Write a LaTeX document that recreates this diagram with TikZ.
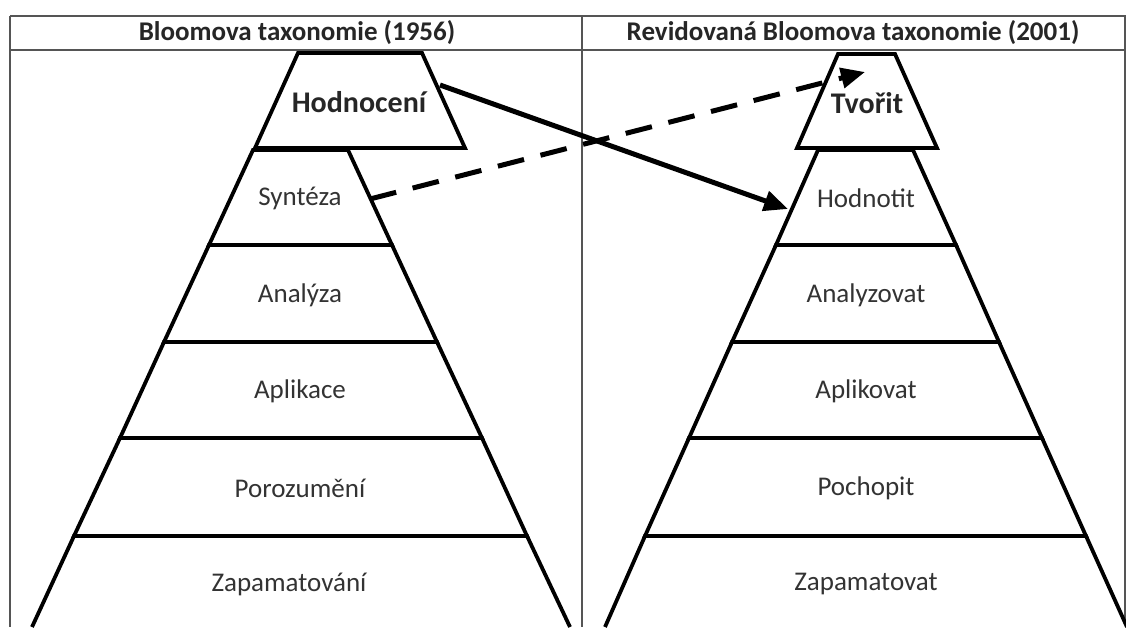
\documentclass[tikz,border=0pt]{standalone}
\usepackage{fontspec}
\setmainfont{Carlito}
\usetikzlibrary{arrows.meta}
\definecolor{txt}{HTML}{333333}
\definecolor{rule}{HTML}{555555}
\begin{document}
\begin{tikzpicture}[x=1pt,y=-1pt,
  frame/.style={draw=rule,line width=1.4pt},
  level/.style={draw=black,fill=white,line width=3.8pt,line join=miter},
  lbl/.style={text=txt,font=\fontsize{27}{31}\selectfont,inner sep=0pt},
  toplbl/.style={text=black!85,font=\bfseries\fontsize{30}{34}\selectfont,inner sep=0pt},
  head/.style={text=black!85,font=\bfseries\fontsize{27}{31}\selectfont,inner sep=0pt},
  conn/.style={draw=black,line width=5pt,-{Triangle[length=24pt,width=20pt]}},
  dashconn/.style={conn,dash pattern=on 27pt off 17pt}]
\useasboundingbox (0,0) rectangle (1126,627);
\fill[white] (0,0) rectangle (1126,627);
\begin{scope}
\clip (0,0) rectangle (1126,627);
% frame
\draw[frame] (10,16) -- (1126,16);
\draw[frame] (10,50) -- (1126,50);
\draw[frame] (10,16) -- (10,627);
\draw[frame] (582,16) -- (582,627);
\draw[frame] (1125,16) -- (1125,627);
\node[head] (h1) at (297,33) {Bloomova taxonomie (1956)};
\node[head] (h2) at (853,33) {Revidovaná Bloomova taxonomie (2001)};
% left pyramid
\draw[level] (32,627) -- (74,536) -- (527,536) -- (570,627);
\draw[level] (74,536) -- (120,438) -- (482,438) -- (527,536) -- cycle;
\draw[level] (120,438) -- (164,342) -- (437,342) -- (482,438) -- cycle;
\draw[level] (164,342) -- (209,245) -- (392,245) -- (437,342) -- cycle;
\draw[level] (209,245) -- (253,150) -- (348,150) -- (392,245) -- cycle;
\draw[level] (255,148) -- (298,53) -- (422,53) -- (465,148) -- cycle;
\node[toplbl] (l1) at (359,102) {Hodnocení};
\node[lbl] (l2) at (300,198) {Syntéza};
\node[lbl] (l3) at (300,295) {Analýza};
\node[lbl] (l4) at (300,391) {Aplikace};
\node[lbl] (l5) at (300,488) {Porozumění};
\node[lbl] (l6) at (289,584) {Zapamatování};
% right pyramid
\draw[level] (605,627) -- (645,536) -- (1086,536) -- (1127,627);
\draw[level] (645,536) -- (689,438) -- (1042,438) -- (1086,536) -- cycle;
\draw[level] (689,438) -- (732,342) -- (999,342) -- (1042,438) -- cycle;
\draw[level] (732,342) -- (776,245) -- (956,245) -- (999,342) -- cycle;
\draw[level] (776,245) -- (818,150) -- (913,150) -- (956,245) -- cycle;
\draw[level] (797,148) -- (838,54) -- (895,54) -- (937,148) -- cycle;
\node[toplbl] (r1) at (867,103) {Tvořit};
\node[lbl] (r2) at (866,198) {Hodnotit};
\node[lbl] (r3) at (866,295) {Analyzovat};
\node[lbl] (r4) at (866,391) {Aplikovat};
\node[lbl] (r5) at (866,488) {Pochopit};
\node[lbl] (r6) at (866,584) {Zapamatovat};
% connectors
\coordinate (hodR) at (440,85);
\coordinate (hodnL) at (788,209);
\coordinate (synR) at (370,199);
\coordinate (tvoL) at (865,72);
\draw[conn] (hodR) -- (hodnL);
\draw[dashconn] (synR) -- (tvoL);
\end{scope}
\end{tikzpicture}
\end{document}
